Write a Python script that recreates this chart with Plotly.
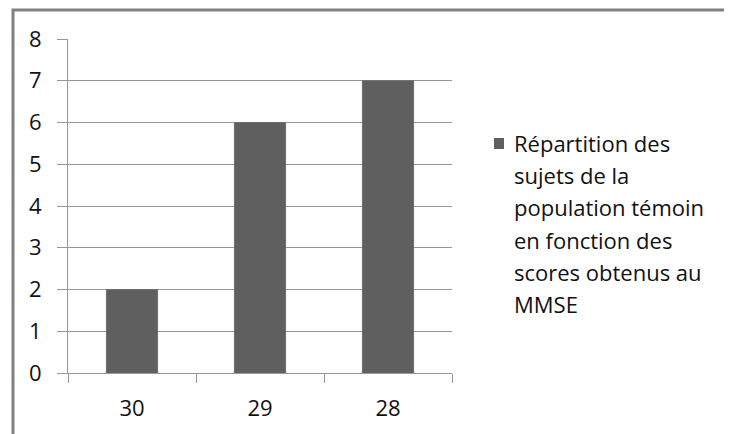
import plotly.graph_objects as go

categories = ["30", "29", "28"]
values = [2, 6, 7]
y_ticks = [0, 1, 2, 3, 4, 5, 6, 7, 8]
legend_lines = ["Répartition des", "sujets de la", "population témoin",
                "en fonction des", "scores obtenus au", "MMSE"]

# page body has an 8px margin; all pixel targets below are screen coordinates
OFF = 8
W, H = 732, 434
L, R, T, B = 68 - OFF, 452 - OFF, 39 - OFF, 373 - OFF
BAR = "#5f5f5f"
GRID = "#969696"
FONT = "Open Sans"
FS = 22

def px(x):
    return (x - OFF - L) / (R - L)

def py(y):
    return (B - (y - OFF)) / (B - T)

fig = go.Figure()
fig.add_trace(go.Bar(x=categories, y=values, name=" ".join(legend_lines),
                     marker=dict(color=BAR, line=dict(color="#6e6e6e", width=1)),
                     showlegend=False))

annotations = []
for k, line in enumerate(legend_lines):
    annotations.append(dict(text=line, xref="paper", yref="paper",
                            x=px(512), y=py(143 + 32.2 * k),
                            xanchor="left", yanchor="middle", showarrow=False,
                            font=dict(family=FONT, size=FS, color="#111")))

shapes = [
    dict(type="rect", xref="paper", yref="paper",
         x0=px(13), x1=px(780), y0=py(480), y1=py(10),
         line=dict(color="#808080", width=3), fillcolor="rgba(0,0,0,0)", layer="below"),
    dict(type="rect", xref="paper", yref="paper",
         x0=px(494), x1=px(504), y0=py(149), y1=py(138),
         line=dict(width=0), fillcolor=BAR),
]

fig.update_layout(
    width=W, height=H,
    margin=dict(l=L, r=W - R, t=T, b=H - B, pad=0),
    paper_bgcolor="white", plot_bgcolor="white",
    bargap=0.6,
    annotations=annotations, shapes=shapes,
    font=dict(family=FONT, size=FS, color="#111"),
)
fig.update_xaxes(type="category", tickson="boundaries", ticks="outside", ticklen=9,
                 tickcolor=GRID, tickwidth=1, showline=True, linecolor=GRID, linewidth=1,
                 showgrid=False, ticklabelstandoff=16,
                 tickfont=dict(family=FONT, size=FS, color="#111"))
fig.update_yaxes(range=[0, 8], tickvals=y_ticks, ticks="outside", ticklen=10,
                 tickcolor=GRID, tickwidth=1, showline=True, linecolor=GRID, linewidth=1,
                 showgrid=True, gridcolor=GRID, gridwidth=1, zeroline=False,
                 ticklabelstandoff=11,
                 tickfont=dict(family=FONT, size=FS, color="#111"))

fig.write_html("out.html")
